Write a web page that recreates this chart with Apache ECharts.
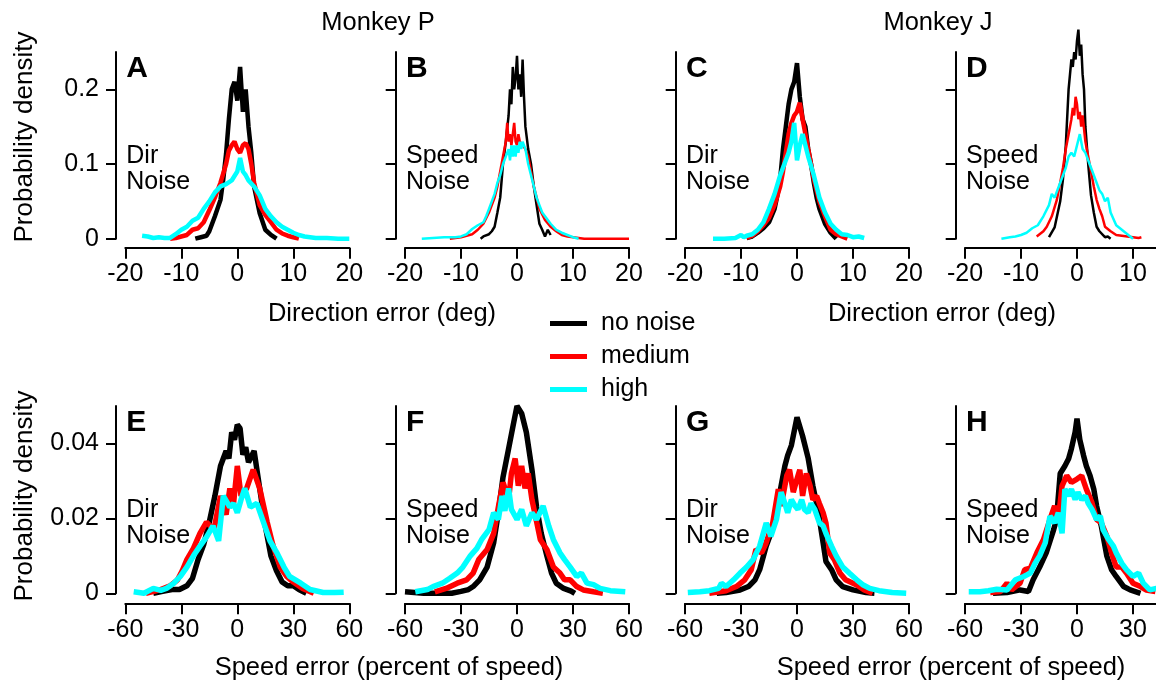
<!DOCTYPE html>
<html>
<head>
<meta charset="utf-8">
<script src="https://cdn.jsdelivr.net/npm/echarts@6/dist/echarts.min.js"></script>
<style>
html, body { margin: 0; padding: 0; background: #fff; }
#chart { width: 1156px; height: 682px; }
</style>
</head>
<body>
<div id="chart"></div>
<script>
// axis ticks
const dirTicks = [-20, -10, 0, 10, 20];
const speedTicks = [-60, -30, 0, 30, 60];
const dirDensityTicks = [0, 0.1, 0.2];
const speedDensityTicks = [0, 0.02, 0.04];

// ---- top row: direction error (deg) ----
// A  monkey P, dir noise
const A_noneX = [-7.5, -6.5, -5.5, -5, -4, -3, -2.5, -2, -1.5, -1, -0.5, 0, 0.5, 1, 1.5, 2, 2.5, 3, 4, 5, 6, 7];
const A_noneY = [0, 0.002, 0.004, 0.01, 0.03, 0.052, 0.08, 0.114, 0.16, 0.2, 0.21, 0.185, 0.23, 0.17, 0.2, 0.15, 0.115, 0.07, 0.034, 0.012, 0.005, 0];
const A_medX = [-12, -11, -10, -9, -8, -7, -6, -5, -4, -3, -2, -1.5, -1, -0.5, 0, 0.5, 1, 1.5, 2, 2.5, 3, 4, 5, 6, 7, 8, 9, 10, 11];
const A_medY = [0, 0.001, 0.003, 0.005, 0.012, 0.014, 0.022, 0.038, 0.055, 0.075, 0.1, 0.118, 0.125, 0.13, 0.12, 0.115, 0.125, 0.128, 0.12, 0.1, 0.075, 0.045, 0.032, 0.022, 0.012, 0.007, 0.004, 0.002, 0];
const A_highX = [-17, -16, -15, -14, -13, -12, -11, -10, -9, -8, -7, -6, -5, -4, -3, -2, -1, 0, 0.5, 1, 1.5, 2, 3, 4, 5, 6, 7, 8, 9, 10, 11, 12, 13, 14, 16, 18, 20];
const A_highY = [0.004, 0.003, 0.001, 0.002, 0.001, 0.001, 0.006, 0.012, 0.016, 0.024, 0.028, 0.04, 0.05, 0.062, 0.07, 0.073, 0.078, 0.09, 0.108, 0.09, 0.085, 0.078, 0.07, 0.058, 0.04, 0.03, 0.022, 0.016, 0.012, 0.008, 0.005, 0.003, 0.002, 0.001, 0.001, 0, 0];

// B  monkey P, speed noise
const B_noneX = [-6.5, -6, -5, -4.5, -4, -3.5, -3, -2.5, -2, -1.5, -1.25, -1, -0.75, -0.5, -0.25, 0, 0.25, 0.5, 0.75, 1, 1.25, 1.5, 2, 2.5, 3, 3.5, 4, 4.5, 5, 5.5, 6];
const B_noneY = [0, 0.003, 0.006, 0.01, 0.016, 0.035, 0.055, 0.1, 0.13, 0.165, 0.2, 0.18, 0.23, 0.2, 0.215, 0.245, 0.2, 0.22, 0.19, 0.24, 0.19, 0.15, 0.12, 0.1, 0.07, 0.045, 0.02, 0.012, 0.003, 0.012, 0.005];
const B_medX = [-12, -10, -9, -8, -7, -6, -5, -4, -3.5, -3, -2.5, -2, -1.75, -1.5, -1.25, -1, -0.75, -0.5, -0.25, 0, 0.25, 0.5, 1, 1.5, 2, 2.5, 3, 3.5, 4, 5, 6, 7, 8, 9, 10, 11, 12, 15, 20];
const B_medY = [0, 0.002, 0.004, 0.006, 0.012, 0.02, 0.035, 0.055, 0.07, 0.09, 0.11, 0.13, 0.155, 0.13, 0.14, 0.125, 0.14, 0.155, 0.13, 0.125, 0.14, 0.13, 0.125, 0.12, 0.11, 0.09, 0.07, 0.055, 0.04, 0.025, 0.016, 0.01, 0.005, 0.003, 0.002, 0.001, 0, 0, 0];
const B_highX = [-17, -15, -13, -11, -10, -9, -8, -7, -6, -5.5, -5, -4.5, -4, -3.5, -3, -2.5, -2, -1.5, -1.25, -1, -0.75, -0.5, -0.25, 0, 0.25, 0.5, 0.75, 1, 1.5, 2, 2.5, 3, 3.5, 4, 4.5, 5, 5.5, 6, 7, 8, 9, 10, 11];
const B_highY = [0, 0.001, 0.002, 0.002, 0.003, 0.006, 0.013, 0.018, 0.022, 0.03, 0.04, 0.05, 0.06, 0.075, 0.085, 0.1, 0.11, 0.12, 0.105, 0.125, 0.11, 0.125, 0.11, 0.125, 0.115, 0.13, 0.12, 0.13, 0.12, 0.1, 0.085, 0.07, 0.055, 0.045, 0.035, 0.03, 0.025, 0.02, 0.012, 0.008, 0.005, 0.002, 0];

// C  monkey J, dir noise
const C_noneX = [-9, -8, -7, -6, -5, -4, -3.5, -3, -2.5, -2, -1.5, -1, -0.5, 0, 0.5, 1, 1.5, 2, 2.5, 3, 3.5, 4, 5, 6, 7];
const C_noneY = [0.001, 0.003, 0.008, 0.014, 0.022, 0.04, 0.058, 0.08, 0.12, 0.15, 0.18, 0.2, 0.21, 0.235, 0.19, 0.16, 0.15, 0.12, 0.1, 0.075, 0.055, 0.04, 0.02, 0.008, 0];
const C_medX = [-9, -8, -7, -6, -5, -4, -3, -2.5, -2, -1.5, -1, -0.5, 0, 0.5, 1, 1.5, 2, 2.5, 3, 4, 5, 6, 7, 8, 9];
const C_medY = [0.001, 0.004, 0.01, 0.018, 0.028, 0.045, 0.07, 0.09, 0.115, 0.14, 0.155, 0.165, 0.17, 0.182, 0.16, 0.14, 0.12, 0.1, 0.08, 0.05, 0.03, 0.012, 0.006, 0.003, 0];
const C_highX = [-15, -13, -11, -10, -9.5, -9, -8, -7, -6, -5, -4, -3, -2, -1.5, -1, -0.5, 0, 0.5, 1, 1.5, 2, 3, 4, 5, 6, 7, 8, 9, 10, 11, 12];
const C_highY = [0, 0, 0.001, 0.005, 0.002, 0.004, 0.006, 0.012, 0.022, 0.04, 0.06, 0.085, 0.105, 0.115, 0.13, 0.155, 0.105, 0.125, 0.14, 0.125, 0.11, 0.085, 0.055, 0.035, 0.02, 0.012, 0.006, 0.005, 0.002, 0.003, 0.001];

// D  monkey J, speed noise
const D_noneX = [-5, -4, -3, -2.5, -2, -1.5, -1.25, -1, -0.75, -0.5, -0.25, 0, 0.25, 0.5, 0.75, 1, 1.25, 1.5, 2, 2.5, 3, 3.5, 4, 5, 5.5, 6];
const D_noneY = [0.002, 0.015, 0.05, 0.08, 0.125, 0.2, 0.22, 0.24, 0.23, 0.25, 0.24, 0.265, 0.28, 0.245, 0.26, 0.22, 0.2, 0.15, 0.1, 0.058, 0.035, 0.016, 0.01, 0.002, 0.003, 0];
const D_medX = [-7.2, -6, -5.4, -4.5, -3.6, -3, -2.5, -2, -1.5, -1, -0.75, -0.5, -0.25, 0, 0.25, 0.5, 0.75, 1, 1.5, 2, 2.5, 3, 3.5, 4, 4.5, 5, 6, 7, 8, 9, 10, 11, 11.5];
const D_medY = [0.003, 0.01, 0.016, 0.03, 0.052, 0.075, 0.095, 0.12, 0.14, 0.16, 0.175, 0.165, 0.19, 0.18, 0.16, 0.17, 0.15, 0.165, 0.13, 0.11, 0.09, 0.07, 0.052, 0.04, 0.03, 0.016, 0.01, 0.005, 0.004, 0.003, 0.002, 0.001, 0.002];
const D_highX = [-13.5, -12, -11, -10, -9, -8, -7, -6, -5, -4.5, -4, -3, -2, -1.5, -1, -0.5, 0, 0.5, 1, 1.5, 2, 2.5, 3, 4, 4.5, 5, 5.5, 6, 7, 8, 9, 10];
const D_highY = [0, 0.002, 0.003, 0.005, 0.008, 0.014, 0.018, 0.03, 0.045, 0.06, 0.055, 0.075, 0.095, 0.11, 0.115, 0.11, 0.125, 0.14, 0.12, 0.115, 0.105, 0.095, 0.085, 0.065, 0.06, 0.05, 0.055, 0.035, 0.018, 0.012, 0.006, 0];

// ---- bottom row: speed error (percent of speed) ----
// E  monkey P, dir noise
const E_noneX = [-45, -40, -35, -31, -27, -24, -21, -18, -15, -12, -9, -6, -4.5, -3, -1.5, 0, 1.5, 3, 4.5, 6, 9, 12, 15, 18, 21, 24, 27, 30, 33, 37];
const E_noneY = [0, 0.0005, 0.001, 0.001, 0.002, 0.004, 0.009, 0.013, 0.019, 0.026, 0.034, 0.038, 0.036, 0.043, 0.041, 0.045, 0.044, 0.037, 0.039, 0.035, 0.038, 0.028, 0.018, 0.01, 0.006, 0.003, 0.002, 0.002, 0.001, 0];
const E_medX = [-49, -41, -36, -32, -29.5, -27, -23.5, -20, -16.5, -14.5, -12.5, -9, -6, -4, -2, 0, 2, 5, 8.5, 12, 16, 19, 23, 26.5, 30, 35, 41];
const E_medY = [0, 0.001, 0.002, 0.0036, 0.006, 0.009, 0.012, 0.016, 0.019, 0.018, 0.017, 0.026, 0.021, 0.028, 0.024, 0.034, 0.026, 0.028, 0.033, 0.028, 0.019, 0.013, 0.007, 0.0045, 0.003, 0.0013, 0];
const E_highX = [-55.5, -50, -45, -41, -38, -34, -30.5, -27, -23.5, -20, -16.5, -13, -10, -7.5, -4, -2, 0, 2, 4, 7, 10.5, 14, 17.5, 21, 25, 28, 34, 39, 46, 52, 57];
const E_highY = [0.0004, 0, 0.0013, 0.0008, 0.0013, 0.0027, 0.0045, 0.007, 0.01, 0.0126, 0.015, 0.018, 0.014, 0.026, 0.023, 0.024, 0.0215, 0.025, 0.028, 0.023, 0.024, 0.019, 0.014, 0.011, 0.007, 0.0045, 0.0027, 0.001, 0.0002, 0.0002, 0.0003];

// F  monkey P, speed noise
const F_noneX = [-60, -55, -50, -45, -40, -35, -30, -26, -23.5, -20, -16, -12.5, -10, -7.5, -4.5, -2, 0, 2.5, 5, 8, 10.5, 13, 16, 18.5, 21, 25, 29, 31];
const F_noneY = [0.0004, 0.0002, 0, 0, 0, 0, 0.0005, 0.001, 0.0018, 0.0036, 0.007, 0.0135, 0.0215, 0.031, 0.0386, 0.045, 0.05, 0.048, 0.043, 0.033, 0.023, 0.016, 0.01, 0.0054, 0.0027, 0.0013, 0.0006, 0];
const F_medX = [-44, -38, -32, -27, -23.5, -20.5, -16, -12.5, -10, -7.5, -4.5, -3, -1, 0.7, 2.5, 4.3, 6, 8, 9.5, 12.5, 16, 19.5, 23, 25.5, 28.5, 32, 35.5, 41, 46];
const F_medY = [0.0004, 0.0013, 0.0027, 0.0036, 0.0054, 0.009, 0.0117, 0.016, 0.023, 0.0296, 0.025, 0.032, 0.036, 0.0287, 0.034, 0.028, 0.032, 0.025, 0.0215, 0.0143, 0.0117, 0.007, 0.0054, 0.0036, 0.0036, 0.0018, 0.0009, 0.0004, 0];
const F_highX = [-54.5, -48, -45, -40, -36, -32, -29, -25, -21.5, -19, -15, -12.5, -10, -8, -6.5, -4.5, -3, 0, 2.5, 5, 8, 10.5, 14, 17, 19.5, 23, 25.5, 28.5, 32, 34.5, 37.5, 41, 44.5, 50, 58];
const F_highY = [0.0004, 0.001, 0.0018, 0.0027, 0.004, 0.0054, 0.007, 0.01, 0.012, 0.0143, 0.017, 0.0215, 0.0197, 0.026, 0.022, 0.028, 0.0224, 0.0197, 0.0224, 0.018, 0.0215, 0.0197, 0.0233, 0.018, 0.0143, 0.0108, 0.009, 0.007, 0.0045, 0.0054, 0.0027, 0.0023, 0.0013, 0.0007, 0.0004];

// G  monkey J, dir noise
const G_noneX = [-43, -38, -30.5, -26, -22.5, -20, -16.5, -14, -11, -8.5, -6.5, -5, -3, 0, 3, 6, 8.5, 11.5, 14, 15.5, 18.5, 21, 24.5, 30, 37, 41.5];
const G_noneY = [0, 0.0002, 0.0009, 0.0018, 0.0036, 0.0063, 0.0126, 0.016, 0.0215, 0.0287, 0.034, 0.0368, 0.0395, 0.047, 0.042, 0.036, 0.0287, 0.0215, 0.0135, 0.0085, 0.0063, 0.0036, 0.0018, 0.0009, 0.0002, 0];
const G_medX = [-47, -38, -32.5, -28, -24.5, -22, -19, -16.5, -13, -10, -8.5, -5.5, -4, -2, 0, 1.5, 3, 5, 7, 8.5, 10.5, 12, 14, 15.5, 17.5, 20, 23, 26, 32, 36, 40.5];
const G_medY = [0, 0.0007, 0.0018, 0.0036, 0.0063, 0.0117, 0.0108, 0.0135, 0.0188, 0.0278, 0.0233, 0.0314, 0.033, 0.027, 0.0305, 0.033, 0.026, 0.032, 0.0287, 0.025, 0.026, 0.024, 0.0215, 0.0188, 0.0108, 0.009, 0.0054, 0.0036, 0.0022, 0.0009, 0];
const G_highX = [-58.5, -52, -47, -42, -40.5, -38, -34, -30.5, -27, -23.5, -20, -16.5, -14, -11, -8.5, -6.5, -5, -3, -1, 0.5, 2.5, 4, 6, 7.5, 9.5, 12, 14, 15.5, 18.5, 21, 24.5, 28, 32, 35.5, 39, 44, 51, 58.5];
const G_highY = [0.0002, 0.0004, 0.0007, 0.0013, 0.0027, 0.0018, 0.0036, 0.0054, 0.007, 0.009, 0.0126, 0.0188, 0.0152, 0.0197, 0.027, 0.024, 0.0215, 0.025, 0.0233, 0.0224, 0.025, 0.0224, 0.0215, 0.024, 0.0224, 0.0188, 0.018, 0.016, 0.0126, 0.01, 0.007, 0.0054, 0.0036, 0.0022, 0.0013, 0.0007, 0.0002, 0];

// H  monkey J, speed noise
const H_noneX = [-45, -37.5, -30.5, -26, -23.5, -20, -16.5, -12.5, -11, -9, -6.5, -4.5, -3, -1, 0, 1.5, 3.5, 5, 7, 9, 10.5, 13, 16, 18.5, 21, 25, 28.5, 34];
const H_noneY = [0, 0.0002, 0.0009, 0.0005, 0.0036, 0.007, 0.0108, 0.017, 0.0197, 0.032, 0.034, 0.0359, 0.0386, 0.043, 0.0466, 0.041, 0.0368, 0.034, 0.0314, 0.0278, 0.0233, 0.018, 0.0099, 0.0063, 0.0045, 0.0018, 0.0009, 0];
const H_medX = [-46.5, -41, -37.5, -35, -30.5, -28, -25, -21.5, -18, -14.5, -12, -10, -8, -5.5, -3, 0, 2.5, 5, 8, 10.5, 13, 16, 18.5, 21, 24, 26.5, 30, 34, 37, 42];
const H_medY = [0.0002, 0.0005, 0.0027, 0.0009, 0.0027, 0.0063, 0.0067, 0.0108, 0.0143, 0.0197, 0.0233, 0.0197, 0.0287, 0.0314, 0.0296, 0.0305, 0.0314, 0.0278, 0.0242, 0.0197, 0.0188, 0.0152, 0.0108, 0.007, 0.007, 0.0054, 0.0027, 0.0018, 0.0009, 0.0005];
const H_highX = [-58, -52, -47.5, -43, -37.5, -33, -28.5, -25, -22.5, -20, -17, -14.5, -12, -10, -8, -6.5, -4.5, -3, -1, 0.5, 2.5, 4.5, 6, 8, 10.5, 12.5, 14, 17, 19.5, 21, 24, 26.5, 30, 33, 35.5, 39, 42.5, 46];
const H_highY = [0.0004, 0.0004, 0.0007, 0.0011, 0.0009, 0.0036, 0.0045, 0.0054, 0.008, 0.01, 0.0135, 0.0206, 0.0188, 0.0215, 0.016, 0.0278, 0.026, 0.0278, 0.025, 0.027, 0.025, 0.026, 0.024, 0.0224, 0.0197, 0.0206, 0.017, 0.0143, 0.0126, 0.0108, 0.008, 0.0063, 0.0045, 0.0054, 0.0027, 0.0009, 0.0013, 0.0009];

const seriesNames = ['no noise', 'medium', 'high'];
const seriesColors = ['#000000', '#ff0000', '#00ffff'];

// panels in column 3 run off the right edge of the figure
const panels = [
  { letter: 'A', noise: 'Dir',   row: 0, col: 0, lw: 4.5, sets: [[A_noneX, A_noneY], [A_medX, A_medY], [A_highX, A_highY]] },
  { letter: 'B', noise: 'Speed', row: 0, col: 1, lw: 2.5, sets: [[B_noneX, B_noneY], [B_medX, B_medY], [B_highX, B_highY]] },
  { letter: 'C', noise: 'Dir',   row: 0, col: 2, lw: 4.5, sets: [[C_noneX, C_noneY], [C_medX, C_medY], [C_highX, C_highY]] },
  { letter: 'D', noise: 'Speed', row: 0, col: 3, lw: 2.5, sets: [[D_noneX, D_noneY], [D_medX, D_medY], [D_highX, D_highY]] },
  { letter: 'E', noise: 'Dir',   row: 1, col: 0, lw: 5.5, sets: [[E_noneX, E_noneY], [E_medX, E_medY], [E_highX, E_highY]] },
  { letter: 'F', noise: 'Speed', row: 1, col: 1, lw: 5.5, sets: [[F_noneX, F_noneY], [F_medX, F_medY], [F_highX, F_highY]] },
  { letter: 'G', noise: 'Dir',   row: 1, col: 2, lw: 5.5, sets: [[G_noneX, G_noneY], [G_medX, G_medY], [G_highX, G_highY]] },
  { letter: 'H', noise: 'Speed', row: 1, col: 3, lw: 5.5, sets: [[H_noneX, H_noneY], [H_medX, H_medY], [H_highX, H_highY]] }
];

const FONT = '"Liberation Sans", Arial, Helvetica, sans-serif';
const colLeft = [125.3, 405, 685, 965];
const plotW = 224;
const chartW = 1156;
const rows = [
  { top: 52, h: 186.7, xTicks: dirTicks, yTicks: dirDensityTicks, yMax: 0.25, xOff: 9, noiseY: 156 },
  { top: 406, h: 187.3, xTicks: speedTicks, yTicks: speedDensityTicks, yMax: 0.05, xOff: 10, noiseY: 510 }
];

const grid = [], xAxis = [], yAxis = [], series = [], graphic = [];

panels.forEach(function (p, i) {
  const r = rows[p.row];
  const left = colLeft[p.col];
  const xMin = r.xTicks[0];
  const xSpan = r.xTicks[r.xTicks.length - 1] - xMin;
  // clip last column at the figure edge, keeping the same scale
  const w = Math.min(plotW, chartW - left);
  const xMax = xMin + xSpan * w / plotW;
  const ticks = r.xTicks.filter(function (t) { return t <= xMax; });
  grid.push({ left: left, top: r.top, width: w, height: r.h });
  xAxis.push({
    type: 'value', gridIndex: i,
    min: xMin, max: xMax,
    offset: r.xOff,
    splitLine: { show: false },
    axisLine: { onZero: false, lineStyle: { color: '#000', width: 2 } },
    axisTick: { customValues: ticks, length: 11, lineStyle: { color: '#000', width: 2 } },
    axisLabel: { customValues: ticks, color: '#000', fontSize: 25, fontFamily: FONT, margin: 14 }
  });
  yAxis.push({
    type: 'value', gridIndex: i,
    min: 0, max: r.yMax,
    offset: 9.3,
    splitLine: { show: false },
    axisLine: { show: true, onZero: false, lineStyle: { color: '#000', width: 2 } },
    axisTick: { show: true, customValues: r.yTicks, length: 10, lineStyle: { color: '#000', width: 2 } },
    axisLabel: { show: p.col === 0, customValues: r.yTicks, color: '#000', fontSize: 25, fontFamily: FONT, margin: 17 }
  });
  p.sets.forEach(function (s, k) {
    series.push({
      name: seriesNames[k], type: 'line',
      xAxisIndex: i, yAxisIndex: i,
      showSymbol: false, symbol: 'none', clip: false,
      color: seriesColors[k],
      lineStyle: { color: seriesColors[k], width: p.lw },
      data: s[0].map(function (x, j) { return [x, s[1][j]]; })
    });
  });
  // panel letter + noise label
  graphic.push({ type: 'text', x: left + 1, y: r.top + 17,
    style: { text: p.letter, font: 'bold 30px ' + FONT, fill: '#000', textVerticalAlign: 'middle' } });
  graphic.push({ type: 'text', x: left + 1, y: r.noiseY,
    style: { text: p.noise, font: '25px ' + FONT, fill: '#000', textVerticalAlign: 'middle' } });
  graphic.push({ type: 'text', x: left + 1, y: r.noiseY + 26,
    style: { text: 'Noise', font: '25px ' + FONT, fill: '#000', textVerticalAlign: 'middle' } });
});

// titles and axis names
const texts = [
  ['Monkey P', 378, 23], ['Monkey J', 938, 23],
  ['Direction error (deg)', 382, 314], ['Direction error (deg)', 942, 314],
  ['Speed error (percent of speed)', 389, 668], ['Speed error (percent of speed)', 951, 668]
];
texts.forEach(function (t) {
  graphic.push({ type: 'text', x: t[1], y: t[2],
    style: { text: t[0], font: '25.5px ' + FONT, fill: '#000', textAlign: 'center', textVerticalAlign: 'middle' } });
});
[137, 496].forEach(function (cy) {
  graphic.push({ type: 'text', x: 25, y: cy, rotation: Math.PI / 2,
    style: { text: 'Probability density', font: '26px ' + FONT, fill: '#000', textAlign: 'center', textVerticalAlign: 'middle' } });
});

const chart = echarts.init(document.getElementById('chart'));
chart.setOption({
  animation: false,
  backgroundColor: '#fff',
  grid: grid,
  xAxis: xAxis,
  yAxis: yAxis,
  series: series,
  graphic: graphic,
  legend: {
    data: seriesNames,
    orient: 'vertical',
    left: 545, top: 306,
    icon: 'rect', itemWidth: 37, itemHeight: 5, itemGap: 8,
    selectedMode: false,
    textStyle: { color: '#000', fontSize: 25, fontFamily: FONT, padding: [0, 0, 0, 9] }
  }
});
</script>
</body>
</html>
